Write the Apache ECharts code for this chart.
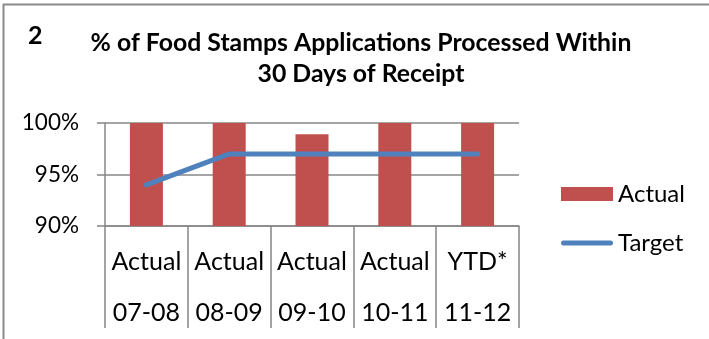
<!DOCTYPE html>
<html>
<head>
<meta charset="utf-8">
<style>
  html, body { margin: 0; padding: 0; background: #ffffff; }
  #chart { width: 709px; height: 339px; }
</style>
<script src="https://cdn.jsdelivr.net/npm/echarts@6/dist/echarts.min.js"></script>
</head>
<body>
<div id="chart"></div>
<script>
// Fiscal-year periods and their status labels
const periodTypes = ['Actual', 'Actual', 'Actual', 'Actual', 'YTD*'];
const periods = ['07-08', '08-09', '09-10', '10-11', '11-12'];

// Share of applications processed within 30 days (%)
const actualValues = [100, 100, 98.9, 100, 100];
const targetValues = [94, 97, 97, 97, 97];

// Y axis range and step (%)
const yMin = 90;
const yMax = 100;
const yStep = 5;

const categories = periods.map((p, i) => periodTypes[i] + '\n' + p);

const FONT = 'Lato, "Noto Sans", sans-serif';
const GREY = '#878787';

// Thick rounded stroke used as the Target legend marker; the leading moves
// pin the icon's bounding box to the full legend item size.
const LINE_ICON = 'path://M0,0 M52,14 M2.5,4.5 L49.5,4.5 A2.5,2.5 0 0 1 49.5,9.5 L2.5,9.5 A2.5,2.5 0 0 1 2.5,4.5 Z';

const chart = echarts.init(document.getElementById('chart'), null, { renderer: 'canvas' });

chart.setOption({
  backgroundColor: '#ffffff',
  animation: false,
  title: [
    {
      text: '2',
      left: 28,
      top: 23,
      padding: 0,
      textStyle: { fontFamily: FONT, fontWeight: 'bold', fontSize: 25, color: '#000' }
    },
    {
      text: '% of Food Stamps Applications Processed Within\n30 Days of Receipt',
      left: 361,
      top: 28,
      padding: 0,
      textAlign: 'center',
      textStyle: { fontFamily: FONT, fontWeight: 'bold', fontSize: 24.8, lineHeight: 31, color: '#000' }
    }
  ],
  legend: {
    orient: 'vertical',
    left: 561,
    top: 182,
    padding: 0,
    itemWidth: 52,
    itemHeight: 14,
    itemGap: 25,
    textStyle: { fontFamily: FONT, fontSize: 24, lineHeight: 24, color: '#000' },
    data: [
      { name: 'Actual', icon: 'rect' },
      { name: 'Target', icon: LINE_ICON }
    ]
  },
  grid: { left: 105, right: 190, top: 123, bottom: 113, containLabel: false },
  xAxis: {
    type: 'category',
    data: categories,
    axisLine: { lineStyle: { color: GREY, width: 1.5 } },
    axisTick: { show: true, length: 102, interval: 0, lineStyle: { color: GREY, width: 1.5 } },
    axisLabel: {
      interval: 0,
      margin: 10,
      fontFamily: FONT,
      fontSize: 25,
      lineHeight: 51,
      color: '#000'
    }
  },
  yAxis: {
    type: 'value',
    min: yMin,
    max: yMax,
    interval: yStep,
    axisLine: { show: true, lineStyle: { color: GREY, width: 1.5 } },
    axisTick: { show: true, length: 8, lineStyle: { color: GREY, width: 1.5 } },
    splitLine: { show: true, lineStyle: { color: GREY, width: 1.5 } },
    axisLabel: {
      margin: 26,
      formatter: '{value}%',
      fontFamily: FONT,
      fontSize: 22.5,
      color: '#000'
    }
  },
  series: [
    {
      name: 'Actual',
      type: 'bar',
      data: actualValues,
      barWidth: 33,
      itemStyle: { color: '#C0504D' }
    },
    {
      name: 'Target',
      type: 'line',
      data: targetValues,
      symbol: 'none',
      lineStyle: { color: '#4F81BD', width: 5, cap: 'round', join: 'round' },
      itemStyle: { color: '#4F81BD' }
    }
  ],
  graphic: [
    {
      type: 'line',
      shape: { x1: 3, y1: 4.5, x2: 709, y2: 4.5 },
      style: { stroke: '#8a8a8a', lineWidth: 2 },
      silent: true
    },
    {
      type: 'line',
      shape: { x1: 3.5, y1: 4, x2: 3.5, y2: 339 },
      style: { stroke: '#8a8a8a', lineWidth: 2 },
      silent: true
    }
  ]
});
</script>
</body>
</html>
